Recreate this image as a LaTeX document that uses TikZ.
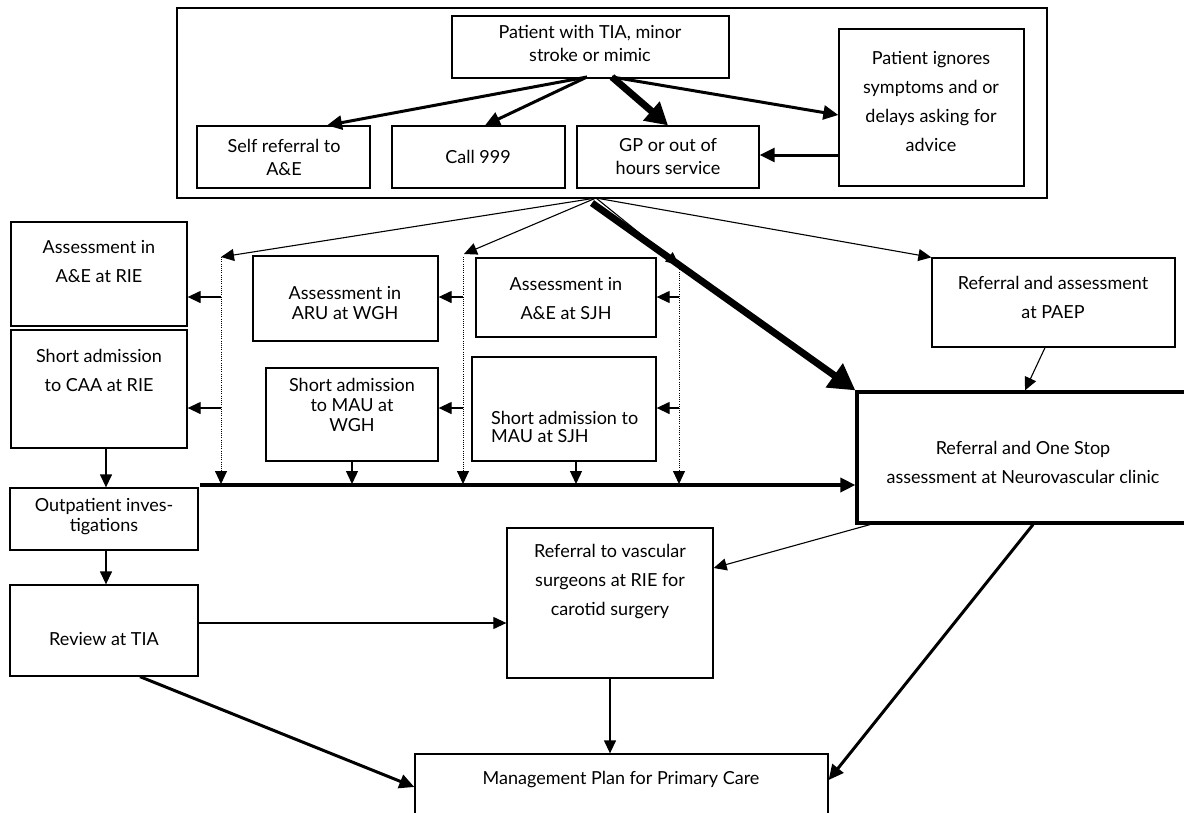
\documentclass[tikz,border=0pt]{standalone}
\usepackage{fontspec}
\setmainfont{Lato}
\usetikzlibrary{arrows.meta,fit}
\begin{document}
\begin{tikzpicture}[x=1pt,y=-1pt,
  box/.style={draw, line width=1.3pt, inner sep=0pt},
  txt/.style={align=center, inner sep=0pt, font=\fontsize{18}{20}\selectfont},
  wide/.style={font=\fontsize{18}{29}\selectfont},
  mid/.style={font=\fontsize{18}{23}\selectfont},
  con/.style={line width=1.3pt, -{Triangle[length=13pt,width=12pt]}},
  thin/.style={line width=1.1pt, -{Triangle[length=13pt,width=12pt]}},
  heavy/.style={line width=3pt, -{Triangle[length=15pt,width=14pt]}},
  fat/.style={line width=7pt, -{Triangle[length=22pt,width=24pt]}},
  dots/.style={line width=0.9pt, dash pattern=on 0.9pt off 1.3pt, -{Triangle[length=13pt,width=12pt]}}
]
\useasboundingbox (0,0) rectangle (1184,812);

% ---------- boxes ----------
\node[box, fit={(177,8) (1047,198)}] (outer) {};
\node[box, fit={(452,16) (729,78)}] (patient) {};
\node[box, fit={(197,126) (370,188)}] (self) {};
\node[box, fit={(392,126) (565,188)}] (call) {};
\node[box, fit={(577,126) (759,188)}] (gp) {};
\node[box, fit={(839,29) (1024,186)}] (ign) {};
\node[box, fit={(11,222) (187,326)}] (rieA) {};
\node[box, fit={(11,330) (187,448)}] (rieC) {};
\node[box, fit={(253,256) (438,341)}] (aru) {};
\node[box, fit={(266,368) (438,461)}] (mauW) {};
\node[box, fit={(476,258) (656,337)}] (sjhA) {};
\node[box, fit={(472,357) (656,461)}] (mauS) {};
\node[box, fit={(932,258) (1175,347)}] (paep) {};
\node[box, line width=3.2pt, fit={(857,392) (1190,523)}] (neuro) {};
\node[box, fit={(10,488) (198,550)}] (outp) {};
\node[box, fit={(10,585) (198,676)}] (review) {};
\node[box, fit={(507,528) (713,678)}] (vasc) {};
\node[box, fit={(415,754) (828,830)}] (mgmt) {};

% ---------- texts ----------
\node[txt, mid] (patient-t) at (590,43) {Patient with TIA, minor\\stroke or mimic};
\node[txt, mid] (self-t) at (284,157) {Self referral to\\A\&E};
\node[txt] (call-t) at (478,157) {Call 999};
\node[txt, mid] (gp-t) at (668,157) {GP or out of\\hours service};
\node[txt, wide] (ign-t) at (931,101) {Patient ignores\\symptoms and or\\delays asking for\\advice};
\node[txt, wide] (rieA-t) at (99,261) {Assessment in\\A\&E at RIE};
\node[txt, wide] (rieC-t) at (99,370) {Short admission\\to CAA at RIE};
\node[txt] (aru-t) at (345,303) {Assessment in\\ARU at WGH};
\node[txt] (mauW-t) at (352,405) {Short admission\\to MAU at\\WGH};
\node[txt, wide] (sjhA-t) at (566,298) {Assessment in\\A\&E at SJH};
\node[txt, align=left, font=\fontsize{18}{18}\selectfont, anchor=west] (mauS-t) at (491,427) {Short admission to\\MAU at SJH};
\node[txt, wide] (paep-t) at (1053,297) {Referral and assessment\\at PAEP};
\node[txt, wide] (neuro-t) at (1023,462) {Referral and One Stop\\assessment at Neurovascular clinic};
\node[txt] (outp-t) at (104,517) {Outpatient inves-\\tigations};
\node[txt] (review-t) at (104,639) {Review at TIA};
\node[txt, wide] (vasc-t) at (610,582) {Referral to vascular\\surgeons at RIE for\\carotid surgery};
\node[txt] (mgmt-t) at (621,780) {Management Plan for Primary Care};

% ---------- named points ----------
\coordinate (pA) at (587,77);
\coordinate (pB) at (612,77);
\coordinate (fan) at (596,198);
\coordinate (fanT) at (592,203);
\coordinate (d1t) at (221,257);
\coordinate (d1b) at (221,484);
\coordinate (d1a) at (221,297);
\coordinate (d1c) at (221,408);
\coordinate (d2t) at (464,254);
\coordinate (d2s) at (463,257);
\coordinate (d2b) at (463,484);
\coordinate (d2a) at (463,297);
\coordinate (d2c) at (463,408);
\coordinate (d3t) at (679,265);
\coordinate (d3b) at (679,484);
\coordinate (d3a) at (679,297);
\coordinate (d3c) at (679,408);
\coordinate (bar) at (200,485);
\coordinate (barW) at (352,484);
\coordinate (barS) at (576,484);

% ---------- top connectors ----------
\draw[heavy] (pA) -- (self.north -| 327,0);
\draw[heavy] (pA) -- (call.north -| 485,0);
\draw[fat] (pB) -- (gp.north -| 668,0);
\draw[heavy] (pB) -- (ign.west |- 0,115);
\draw[heavy] (ign.west |- 0,155) -- (gp.east |- 0,155);

% ---------- fan from GP ----------
\draw[thin] (fan) -- (d1t);
\draw[thin] (fan) -- (d2t);
\draw[thin] (fan) -- (d3t);
\draw[thin] (fan) -- (paep.north west);
\draw[fat, -{Triangle[length=26pt,width=28pt]}] (fanT) -- (neuro.north west);

% ---------- dotted distributors ----------
\draw[dots] (d1t) -- (d1b);
\draw[dots] (d2s) -- (d2b);
\draw[dots] (d3t) -- (d3b);
\draw[con] (d1a) -- (rieA.east |- d1a);
\draw[con] (d1c) -- (rieC.east |- d1c);
\draw[con] (d2a) -- (aru.east |- d2a);
\draw[con] (d2c) -- (mauW.east |- d2c);
\draw[con] (d3a) -- (sjhA.east |- d3a);
\draw[con] (d3c) -- (mauS.east |- d3c);
\draw[con] (mauW.south -| barW) -- (barW);
\draw[con] (mauS.south -| barS) -- (barS);
\draw[line width=3.5pt, -{Triangle[length=15pt,width=14pt]}] (bar) -- (neuro.west |- bar);

% ---------- lower connectors ----------
\draw[thin] (paep.south -| 1045,0) -- (neuro.north -| 1025,0);
\draw[con] (rieC.south -| 106,0) -- (outp.north -| 106,0);
\draw[con] (outp.south -| 106,0) -- (review.north -| 106,0);
\draw[thin] (review.east |- 0,623) -- (vasc.west |- 0,623);
\draw[heavy] (review.south -| 140,0) -- (mgmt.west |- 0,787);
\draw[con] (vasc.south -| 610,0) -- (mgmt.north -| 610,0);
\draw[thin] (neuro.south -| 870,0) -- (vasc.east |- 0,568);
\draw[heavy] (neuro.south -| 1033,0) -- (mgmt.east |- 0,780);
\end{tikzpicture}
\end{document}
